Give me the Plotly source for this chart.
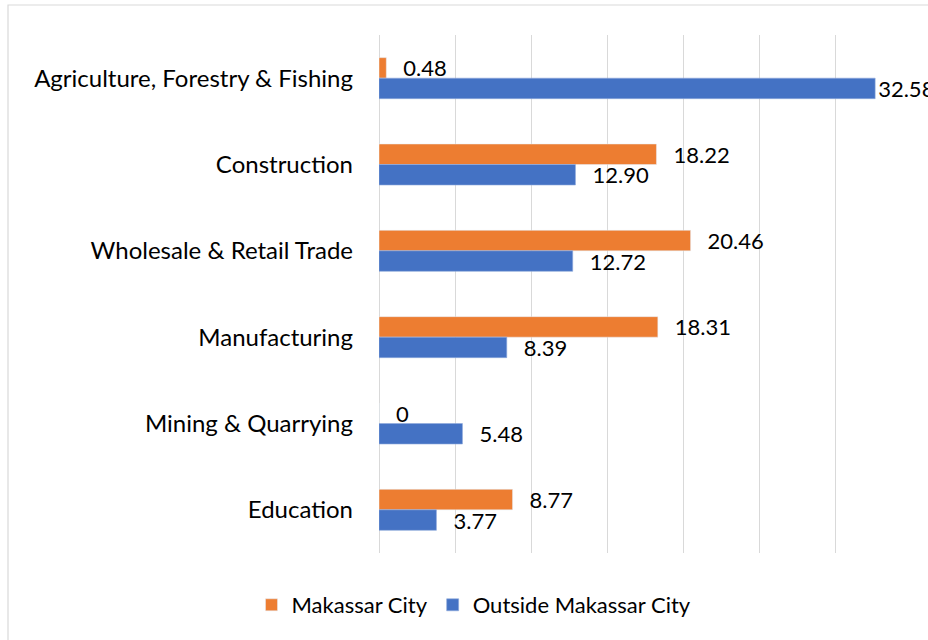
import plotly.graph_objects as go

categories = ["Agriculture, Forestry & Fishing", "Construction", "Wholesale & Retail Trade",
              "Manufacturing", "Mining & Quarrying", "Education"]
makassar = [0.48, 18.22, 20.46, 18.31, 0, 8.77]
outside = [32.58, 12.90, 12.72, 8.39, 5.48, 3.77]
series_names = ["Makassar City", "Outside Makassar City"]

X_MAX = 35


def fmt(v):
    return "0" if v == 0 else f"{v:.2f}"


def label(v):
    # Excel-like outside-end label: padded gap, tighter near the axis end
    pad = "" if v > X_MAX - 5 else "\u00a0\u00a0\u2009"
    return pad + fmt(v)


FONT = "Lato, Carlito, 'Liberation Sans', sans-serif"

fig = go.Figure()
fig.add_trace(go.Bar(
    y=categories, x=makassar, orientation="h", name=series_names[0],
    marker=dict(color="#ED7D31"),
    text=[label(v) for v in makassar], textposition="outside",
    textfont=dict(size=22, color="#000000", family=FONT),
    cliponaxis=False, constraintext="none", hoverinfo="x+y",
))
fig.add_trace(go.Bar(
    y=categories, x=outside, orientation="h", name=series_names[1],
    marker=dict(color="#4472C4", line=dict(color="#8FAADC", width=0.6)),
    text=[label(v) for v in outside], textposition="outside",
    textfont=dict(size=22, color="#000000", family=FONT),
    cliponaxis=False, constraintext="none", hoverinfo="x+y",
))

L, R, T, B = 379, 16, 35, 87
W, H = 928, 640
pw, ph = W - L - R, H - T - B

fig.update_layout(
    width=W, height=H,
    margin=dict(l=L, r=R, t=T, b=B, autoexpand=False),
    paper_bgcolor="white", plot_bgcolor="white",
    barmode="group", bargap=0.525, bargroupgap=0,
    font=dict(family=FONT, size=22, color="#000000"),
    showlegend=True,
    legend=dict(orientation="h", x=(474 - L) / pw, xanchor="center",
                y=(H - B - 605) / ph, yanchor="middle",
                font=dict(size=22, color="#000000"), itemwidth=30,
                traceorder="normal"),
    xaxis=dict(range=[0, X_MAX], dtick=5, showticklabels=False, showgrid=True,
               gridcolor="#D9D9D9", gridwidth=1, zeroline=True,
               zerolinecolor="#D9D9D9", zerolinewidth=1, showline=False,
               ticks="", fixedrange=True),
    yaxis=dict(autorange="reversed", showgrid=False, showline=False, ticks="",
               tickfont=dict(size=24, color="#000000"), ticklabelstandoff=25,
               automargin=False, fixedrange=True),
    shapes=[dict(type="rect", xref="paper", yref="paper",
                 x0=(8 - L) / pw, x1=1.2, y0=-0.3, y1=(H - B - 5) / ph,
                 line=dict(color="#D9D9D9", width=1.2), fillcolor="rgba(0,0,0,0)",
                 layer="below")],
)

fig.write_html("out.html", config={"displayModeBar": False},
               post_script="document.body.style.margin='0';document.body.style.overflow='hidden';")
